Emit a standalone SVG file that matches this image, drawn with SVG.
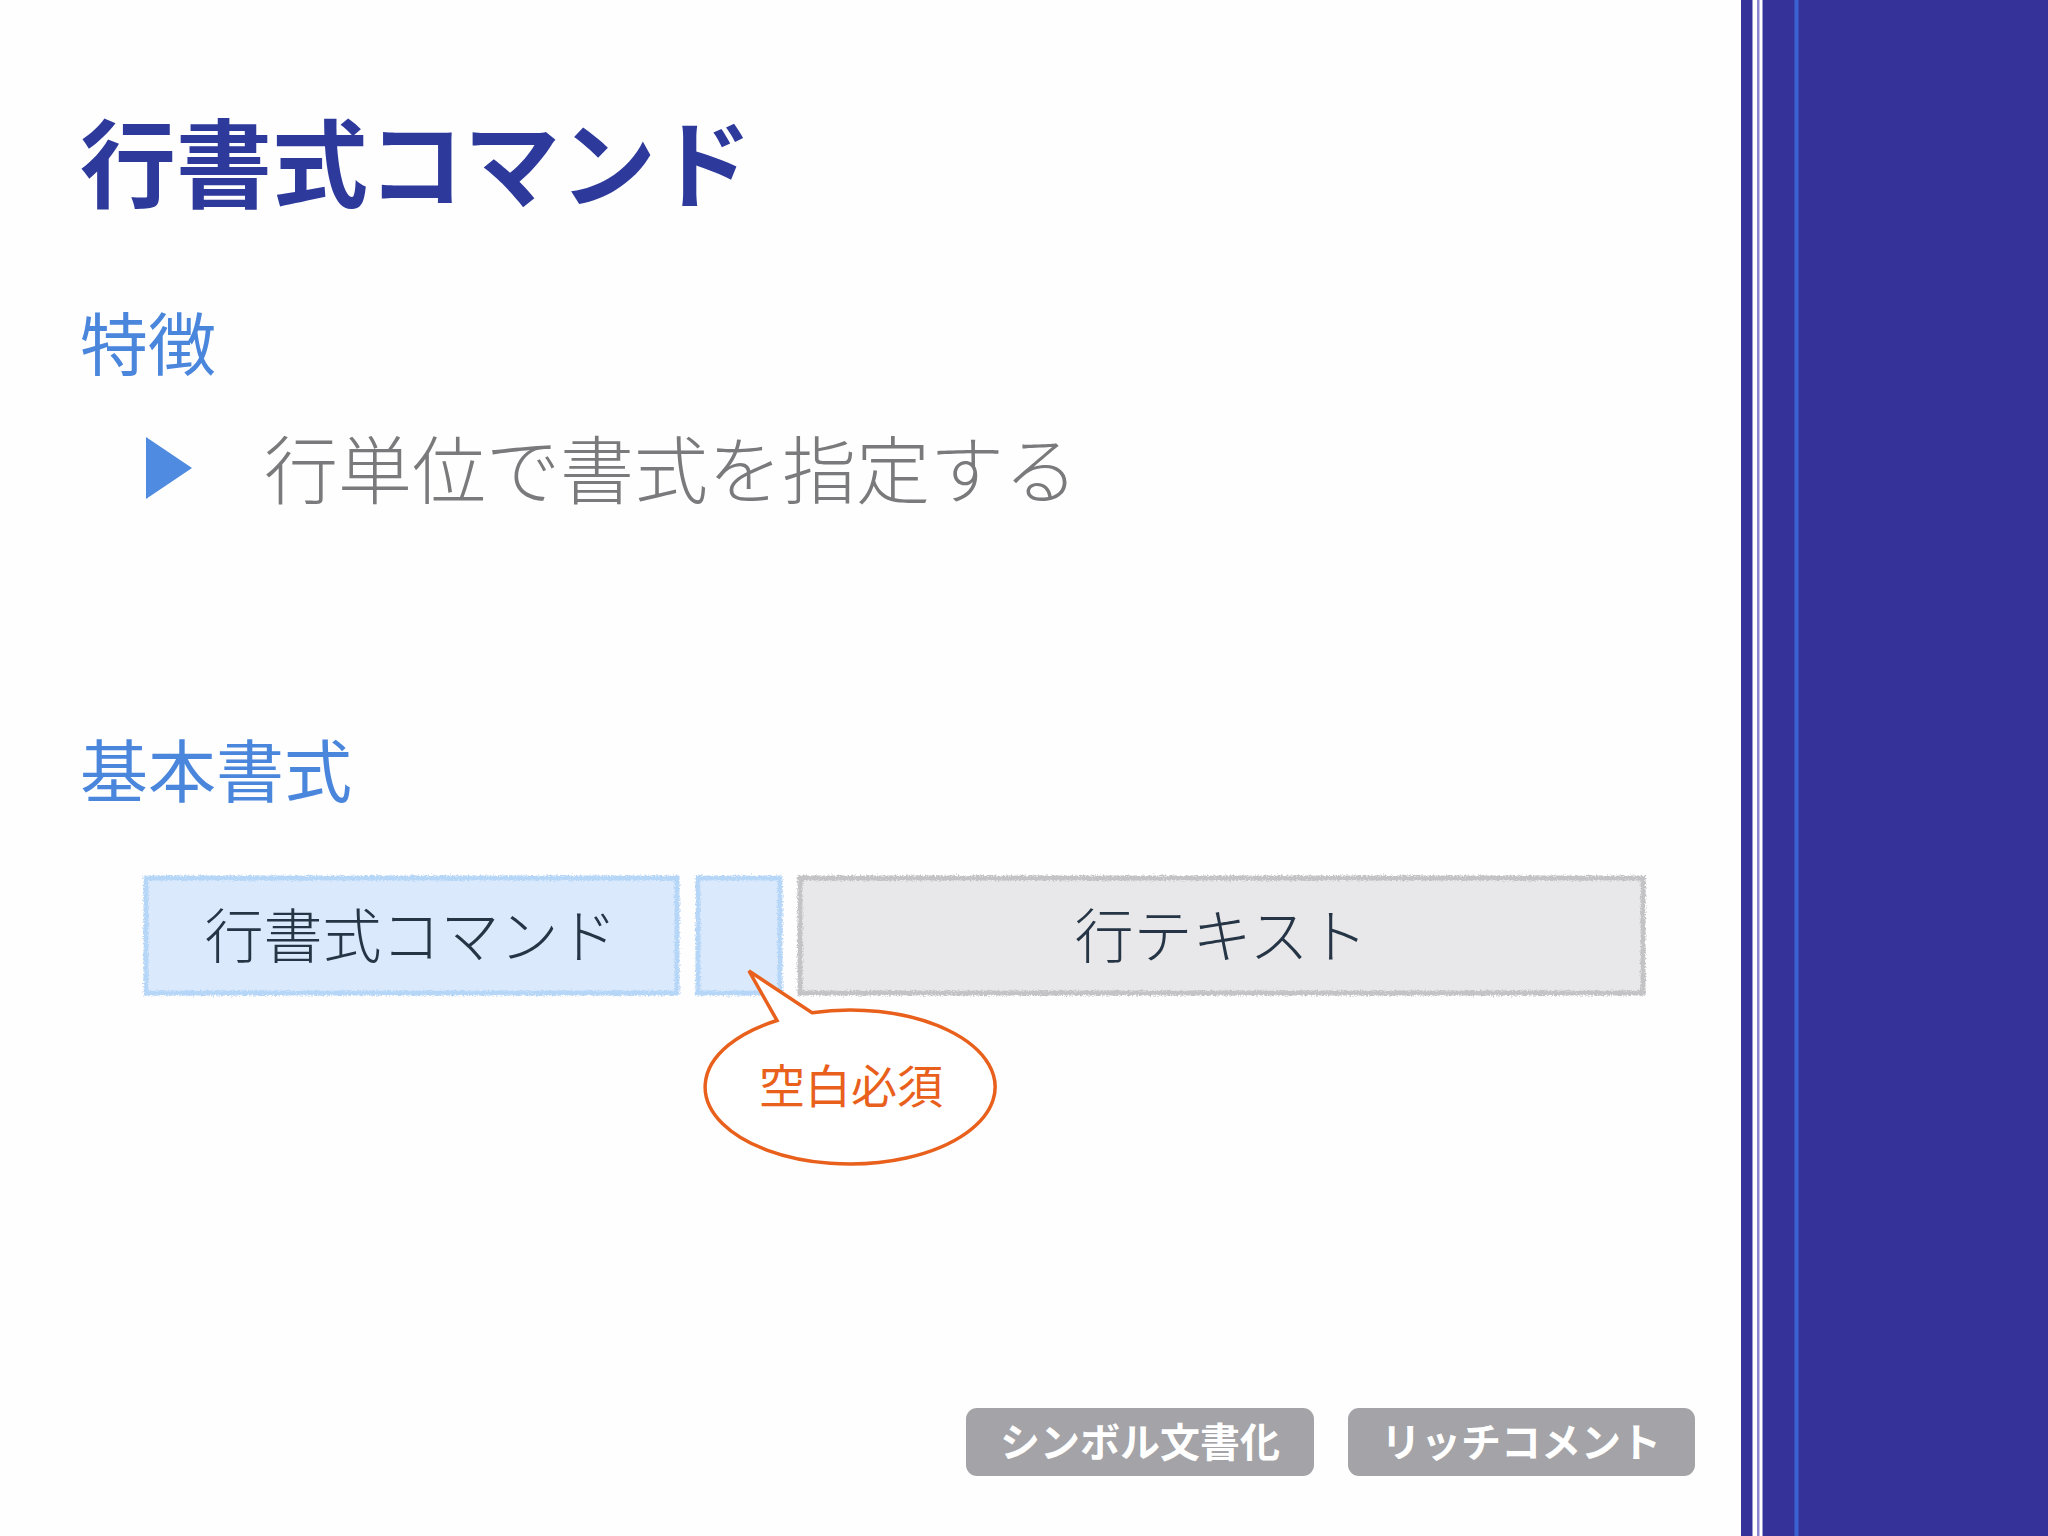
<svg xmlns="http://www.w3.org/2000/svg" width="2048" height="1536" viewBox="0 0 2048 1536">
  <defs>
    <filter id="rough" x="-5%" y="-5%" width="110%" height="110%">
      <feTurbulence type="fractalNoise" baseFrequency="0.6" numOctaves="2" seed="3" result="n"/>
      <feDisplacementMap in="SourceGraphic" in2="n" scale="5" xChannelSelector="R" yChannelSelector="G"/>
    </filter>
  </defs>
  <style>
    .jp { font-family: "Noto Sans CJK JP", "Noto Sans CJK SC", sans-serif; }
    .title { font-size: 96px; font-weight: 700; fill: #2D3A9C; }
    .head { font-size: 68px; fill: #4A86DC; }
    .body { font-size: 74px; font-weight: 300; fill: #7A7A7C; }
    .boxtext { font-size: 59px; font-weight: 300; fill: #263545; text-anchor: middle; }
    .blue { fill: #DAEAFC; stroke: #B6D6F8; stroke-width: 5; }
    .gray { fill: #E8E8EA; stroke: #C3C3C5; stroke-width: 5; }
    .btn { fill: #A4A3A7; }
    .btntext { font-size: 40px; font-weight: 700; fill: #FFFFFF; text-anchor: middle; }
    .callout { fill: #FFFFFF; stroke: #E8601C; stroke-width: 3.5; stroke-linejoin: miter; }
    .callouttext { font-size: 46px; fill: #E8601C; text-anchor: middle; }
  </style>

  <rect x="0" y="0" width="2048" height="1536" fill="#FEFEFE"/>

  <!-- right stripe -->
  <g id="sidebar">
    <rect x="1741" y="0" width="307" height="1536" fill="#35339A"/>
    <rect x="1752.5" y="0" width="10" height="1536" fill="#FFFFFF"/>
    <rect x="1757" y="0" width="2.5" height="1536" fill="#8C86D0"/>
    <rect x="1794.5" y="0" width="4" height="1536" fill="#3B62D2"/>
  </g>

  <g id="title">
    <text class="jp title" x="80" y="200">行書式コマンド</text>
  </g>

  <g id="features">
    <text class="jp head" x="80" y="370">特徴</text>
    <polygon points="146,437 192,468 146,499" fill="#4F8BE0"/>
    <text class="jp body" x="264" y="498">行単位で書式を指定する</text>
  </g>

  <g id="basic">
    <text class="jp head" x="80" y="797">基本書式</text>
  </g>

  <g id="node-command">
    <rect class="blue" x="146" y="878" width="531" height="115" filter="url(#rough)"/>
    <text class="jp boxtext" x="411" y="958">行書式コマンド</text>
  </g>

  <g id="node-space">
    <rect class="blue" x="698" y="878" width="82" height="115" filter="url(#rough)"/>
  </g>

  <g id="node-text">
    <rect class="gray" x="800" y="878" width="843" height="115" filter="url(#rough)"/>
    <text class="jp boxtext" x="1221" y="958">行テキスト</text>
  </g>

  <g id="connectors"></g>

  <g id="callout">
    <path class="callout" d="M 777,1020.5 A 145,77 0 1 0 812,1012.7 L 749,971 Z"/>
    <text class="jp callouttext" x="851" y="1103">空白必須</text>
  </g>

  <g id="btn-symbol">
    <rect class="btn" x="966" y="1408" width="348" height="68" rx="11"/>
    <text class="jp btntext" x="1140" y="1457">シンボル文書化</text>
  </g>

  <g id="btn-rich">
    <rect class="btn" x="1348" y="1408" width="347" height="68" rx="11"/>
    <text class="jp btntext" x="1521" y="1457">リッチコメント</text>
  </g>
</svg>
